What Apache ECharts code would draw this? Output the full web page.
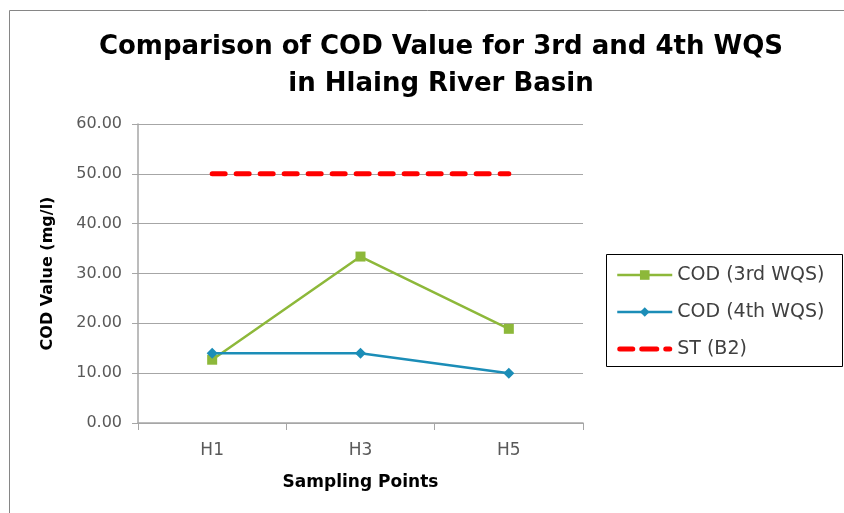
<!DOCTYPE html>
<html>
<head>
<meta charset="utf-8">
<script src="https://cdn.jsdelivr.net/npm/echarts@6/dist/echarts.min.js"></script>
<style>
  html, body { margin: 0; padding: 0; background: #fff; }
  #chart { width: 844px; height: 513px; }
</style>
</head>
<body>
<div id="chart"></div>
<script>
// Sampling stations along the river
const categories = ['H1', 'H3', 'H5'];
// COD measured in the 3rd water quality survey (mg/l)
const cod3rd = [12.7, 33.4, 18.9];
// COD measured in the 4th water quality survey (mg/l)
const cod4th = [14.0, 14.0, 10.0];
// Standard limit for class B2 water (mg/l)
const standardB2 = [50, 50, 50];

const FONT = '"DejaVu Sans", sans-serif';
const STD_DASH = [13, 11];

// Legend swatch for the standard line: three rounded dashes inside a 55x12 box
// (the two zero-length segments pin the corners so the box is not stretched).
const DASH_ICON = 'path://M0,0L0,0M55,12L55,12' +
  'M2.5,3.5H15.5A2.5,2.5,0,0,1,15.5,8.5H2.5A2.5,2.5,0,0,1,2.5,3.5Z' +
  'M24.5,3.5H39.5A2.5,2.5,0,0,1,39.5,8.5H24.5A2.5,2.5,0,0,1,24.5,3.5Z' +
  'M48.5,3.5H52.5A2.5,2.5,0,0,1,52.5,8.5H48.5A2.5,2.5,0,0,1,48.5,3.5Z';

const chart = echarts.init(document.getElementById('chart'), null, { renderer: 'canvas' });

chart.setOption({
  animation: false,
  backgroundColor: '#ffffff',
  title: {
    text: 'Comparison of COD Value for 3rd and 4th WQS\nin Hlaing River Basin',
    left: 436,
    top: 24,
    textAlign: 'center',
    textStyle: {
      fontFamily: FONT,
      fontWeight: 'bold',
      fontSize: 26,
      lineHeight: 37,
      color: '#000000'
    }
  },
  graphic: [
    {
      // outer chart frame
      type: 'rect',
      shape: { x: 9.5, y: 10.5, width: 900, height: 600 },
      style: { fill: 'none', stroke: '#868686', lineWidth: 1 },
      silent: true
    },
    {
      // legend frame
      type: 'rect',
      shape: { x: 606.5, y: 254.5, width: 236, height: 112 },
      style: { fill: '#ffffff', stroke: '#000000', lineWidth: 1 },
      silent: true,
      z: 0
    }
  ],
  legend: {
    orient: 'vertical',
    left: 616,
    top: 265,
    padding: 0,
    itemWidth: 55,
    itemHeight: 12,
    itemGap: 17,
    z: 5,
    textStyle: {
      fontFamily: FONT,
      fontSize: 19,
      lineHeight: 20,
      color: '#404040'
    },
    data: [
      { name: 'COD (3rd WQS)', lineStyle: { width: 2.5 } },
      { name: 'COD (4th WQS)', lineStyle: { width: 2.5 } },
      { name: 'ST (B2)', icon: DASH_ICON, itemStyle: { color: '#ff0000' } }
    ]
  },
  grid: {
    left: 138,
    right: 261,
    top: 124,
    bottom: 90
  },
  xAxis: {
    type: 'category',
    data: categories,
    boundaryGap: true,
    name: 'Sampling Points',
    nameLocation: 'middle',
    nameGap: 51,
    nameTextStyle: {
      fontFamily: FONT,
      fontWeight: 'bold',
      fontSize: 17,
      color: '#000000'
    },
    axisLine: { lineStyle: { color: '#a6a6a6', width: 1.5 } },
    axisTick: { show: true, length: 7, alignWithLabel: false, lineStyle: { color: '#a6a6a6' } },
    axisLabel: {
      margin: 19,
      fontFamily: FONT,
      fontSize: 17,
      color: '#595959'
    },
    splitLine: { show: false }
  },
  yAxis: {
    type: 'value',
    min: 0,
    max: 60,
    interval: 10,
    name: 'COD Value (mg/l)',
    nameLocation: 'middle',
    nameGap: 82,
    nameRotate: 90,
    nameTextStyle: {
      fontFamily: FONT,
      fontWeight: 'bold',
      fontSize: 16,
      color: '#000000'
    },
    axisLine: { show: true, lineStyle: { color: '#a6a6a6', width: 1.5 } },
    axisTick: { show: true, length: 6, lineStyle: { color: '#a6a6a6' } },
    axisLabel: {
      margin: 16,
      fontFamily: FONT,
      fontSize: 16,
      color: '#595959',
      formatter: v => v.toFixed(2)
    },
    splitLine: { lineStyle: { color: '#a6a6a6', width: 1 } }
  },
  series: [
    {
      name: 'COD (3rd WQS)',
      type: 'line',
      data: cod3rd,
      symbol: 'rect',
      symbolSize: 10,
      color: '#8db83a',
      lineStyle: { width: 2.5, color: '#8db83a' },
      itemStyle: { color: '#8db83a' },
      z: 3
    },
    {
      name: 'COD (4th WQS)',
      type: 'line',
      data: cod4th,
      symbol: 'diamond',
      symbolSize: 11,
      color: '#1b8db7',
      lineStyle: { width: 2.5, color: '#1b8db7' },
      itemStyle: { color: '#1b8db7' },
      z: 4
    },
    {
      name: 'ST (B2)',
      type: 'line',
      data: standardB2,
      symbol: 'none',
      color: '#ff0000',
      lineStyle: { width: 5, color: '#ff0000', type: STD_DASH, cap: 'round' },
      z: 2
    }
  ]
});
</script>
</body>
</html>
